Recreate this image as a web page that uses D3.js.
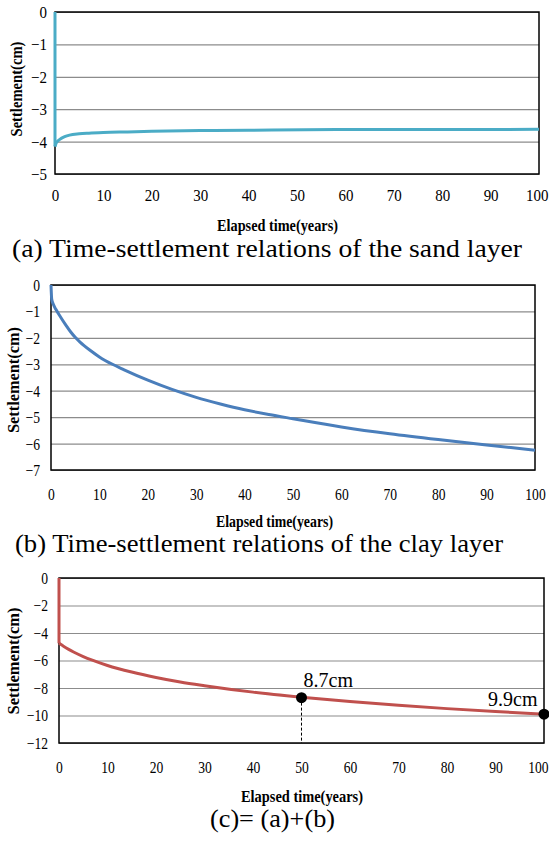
<!DOCTYPE html>
<html lang="en">
<head>
<meta charset="UTF-8">
<title>Time-settlement relations</title>
<script src="https://d3js.org/d3.v7.min.js"></script>
<style>
  body { margin: 0; background: #fff; }
  svg { display: block; }
  text { font-family: "Liberation Serif", "Times New Roman", serif; fill: #000; }
  .grid line { stroke: #8c8c8c; stroke-width: 1.2; }
  .grid .domain { display: none; }
  .xaxis .domain, .xaxis line { display: none; }
  .frame { fill: none; stroke: #000; stroke-width: 1.5; }
  .curve { fill: none; stroke-width: 3; stroke-linejoin: round; }
</style>
</head>
<body>
<div id="chart"></div>
<script>
var width = 549, height = 843;

// (a) sand layer
var sandYears  = [0, 0, 0.3, 1, 2, 3, 5, 7, 10, 15, 20, 30, 40, 60, 80, 100];
var sandSettle = [0, -4.15, -4.03, -3.93, -3.85, -3.80, -3.76, -3.74, -3.72, -3.70, -3.68, -3.66, -3.65, -3.63, -3.63, -3.62];

// (b) clay layer
var clayYears  = [0, 0.15, 0.5, 1, 2, 3, 4, 5, 6, 8, 10, 12.7, 15, 20, 25, 30, 35, 40, 45, 50, 60, 70, 80, 90, 100];
var claySettle = [0, -0.54, -0.74, -0.92, -1.22, -1.5, -1.76, -1.98, -2.16, -2.46, -2.72, -3.0, -3.2, -3.6, -3.95, -4.25, -4.5, -4.72, -4.9, -5.06, -5.37, -5.63, -5.85, -6.05, -6.25];

// (c) total
var totalYears  = [0, 0, 1, 2, 3, 5, 7, 10, 15, 20, 25, 30, 40, 50, 60, 70, 80, 90, 100];
var totalSettle = [0, -4.75, -4.98, -5.19, -5.38, -5.71, -5.99, -6.36, -6.84, -7.23, -7.56, -7.83, -8.3, -8.67, -8.99, -9.26, -9.5, -9.71, -9.9];

var markYears  = [50, 100];
var markSettle = [-8.7, -9.9];
var markLabels = ["8.7cm", "9.9cm"];

var xTicks  = [0, 10, 20, 30, 40, 50, 60, 70, 80, 90, 100];
var yTicksA = [0, -1, -2, -3, -4, -5];
var yTicksB = [0, -1, -2, -3, -4, -5, -6, -7];
var yTicksC = [0, -2, -4, -6, -8, -10, -12];

var captions = [
  "(a) Time-settlement relations of the sand layer",
  "(b) Time-settlement relations of the clay layer",
  "(c)= (a)+(b)"
];

var svg = d3.select("#chart").append("svg")
    .attr("width", width)
    .attr("height", height);

function panel(o) {
  var x = d3.scaleLinear().domain([0, 100]).range([o.left, o.right]);
  var y = d3.scaleLinear().domain([0, o.yTicks[o.yTicks.length - 1]]).range([o.top, o.bottom]);
  var g = svg.append("g");

  // horizontal grid + y tick labels
  var ya = g.append("g")
      .attr("class", "grid")
      .attr("transform", "translate(" + o.left + ",0)")
      .call(d3.axisLeft(y).tickValues(o.yTicks).tickSize(-(o.right - o.left)).tickPadding(o.yPad).tickFormat(d3.format("d")));
  ya.selectAll("text")
      .style("font-size", o.tickFont + "px")
      .attr("x", -o.yPad / o.squeeze)
      .attr("transform", "scale(" + o.squeeze + ",1)");

  var xa = g.append("g")
      .attr("class", "xaxis")
      .attr("transform", "translate(0," + o.bottom + ")")
      .call(d3.axisBottom(x).tickValues(xTicks).tickSize(0));
  xa.selectAll("text")
      .style("font-size", o.tickFont + "px")
      .attr("y", o.xTickBase)
      .attr("dy", null)
      .attr("transform", "scale(" + o.squeeze + ",1)");
  // keep the last label inside the page
  if (o.right + 12 > width) {
    xa.selectAll("text").filter(function(d) { return d === 100; })
        .attr("text-anchor", "end")
        .attr("x", (width - o.right - 1) / o.squeeze);
  }

  g.append("rect")
      .attr("class", "frame")
      .attr("x", o.left).attr("y", o.top)
      .attr("width", o.right - o.left).attr("height", o.bottom - o.top);

  // vertical jump at t=0 is drawn straight, the rest as a smooth curve
  var pts = d3.zip(o.years, o.settle);
  var start = pts[1][0] === pts[0][0] ? 1 : 0;
  var straight = d3.line().x(function(d) { return x(d[0]); }).y(function(d) { return y(d[1]); });
  var smooth = d3.line().curve(d3.curveMonotoneX).x(function(d) { return x(d[0]); }).y(function(d) { return y(d[1]); });
  if (start) {
    g.append("path")
        .attr("class", "curve")
        .attr("stroke", o.color)
        .attr("d", straight(pts.slice(0, 2)));
  }
  g.append("path")
      .attr("class", "curve")
      .attr("stroke", o.color)
      .attr("d", smooth(pts.slice(start)));

  g.append("text")
      .attr("transform", "translate(" + o.yLab[0] + "," + o.yLab[1] + ") rotate(-90)")
      .attr("text-anchor", "middle")
      .style("font-size", "16px").style("font-weight", "bold")
      .attr("textLength", o.yLab[2]).attr("lengthAdjust", "spacingAndGlyphs")
      .text("Settlement(cm)");

  g.append("text")
      .attr("x", o.xLab[0] - o.xLab[2] / 2).attr("y", o.xLab[1])
      .style("font-size", "16px").style("font-weight", "bold")
      .attr("textLength", o.xLab[2]).attr("lengthAdjust", "spacingAndGlyphs")
      .text("Elapsed time(years)");

  g.append("text")
      .attr("x", o.cap[0]).attr("y", o.cap[1])
      .style("font-size", "26px")
      .attr("textLength", o.cap[2]).attr("lengthAdjust", "spacingAndGlyphs")
      .text(o.caption);

  return { x: x, y: y, g: g };
}

panel({
  left: 55, right: 539, top: 12, bottom: 174, yTicks: yTicksA,
  yPad: 8, tickFont: 17, squeeze: 0.88, xTickBase: 27,
  color: "#4bacc6", years: sandYears, settle: sandSettle,
  yLab: [22, 89, 95], xLab: [277.5, 231, 121], cap: [12, 257, 510], caption: captions[0]
});

panel({
  left: 51, right: 535, top: 285, bottom: 470, yTicks: yTicksB,
  yPad: 11, tickFont: 17, squeeze: 0.8, xTickBase: 30,
  color: "#4a7ebb", years: clayYears, settle: claySettle,
  yLab: [19, 380, 106], xLab: [274.5, 527, 117], cap: [15, 552, 488], caption: captions[1]
});

var pc = panel({
  left: 59, right: 544, top: 578, bottom: 743, yTicks: yTicksC,
  yPad: 11, tickFont: 16, squeeze: 0.85, xTickBase: 30,
  color: "#c0504d", years: totalYears, settle: totalSettle,
  yLab: [19, 661, 107], xLab: [302, 802, 122], cap: [210, 827, 125], caption: captions[2]
});

// markers on (c)
var marks = d3.zip(markYears, markSettle, markLabels);
pc.g.selectAll(".drop")
    .data(marks.slice(0, 1))
  .enter().append("line")
    .attr("x1", function(d) { return pc.x(d[0]); })
    .attr("x2", function(d) { return pc.x(d[0]); })
    .attr("y1", function(d) { return pc.y(d[1]); })
    .attr("y2", pc.y(-12))
    .attr("stroke", "#000").attr("stroke-width", 1).attr("stroke-dasharray", "3,2");

pc.g.selectAll(".dot")
    .data(marks)
  .enter().append("circle")
    .attr("cx", function(d) { return pc.x(d[0]); })
    .attr("cy", function(d) { return pc.y(d[1]); })
    .attr("r", 5.5)
    .attr("fill", "#000");

pc.g.selectAll(".mlabel")
    .data(marks)
  .enter().append("text")
    .attr("x", function(d, i) { return pc.x(d[0]) + (i ? -56 : 2); })
    .attr("y", function(d, i) { return pc.y(d[1]) - (i ? 8 : 11); })
    .style("font-size", "20px")
    .text(function(d) { return d[2]; });
</script>
</body>
</html>
